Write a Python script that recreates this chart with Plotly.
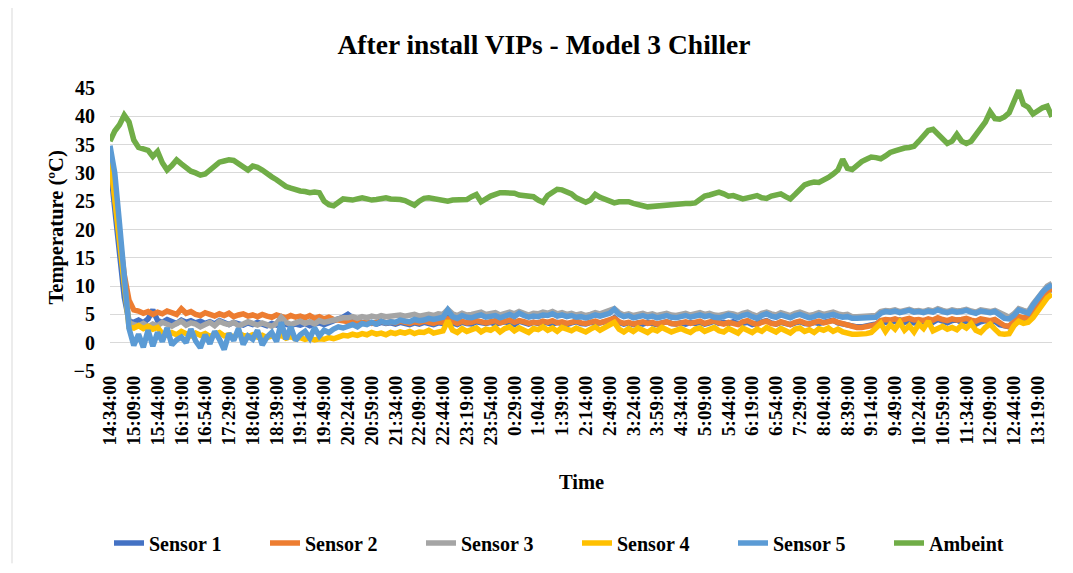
import plotly.graph_objects as go
import pandas as pd

start_time = "2021-01-01 14:34:00"
sample_step = "7min"

ambient = [
    35.6, 37.4, 38.5, 40.2, 39.0, 35.8, 34.5, 34.3, 34.0, 32.9,
    33.8, 31.8, 30.5, 31.3, 32.3, 31.6, 30.8, 30.3, 30.0, 29.6,
    29.8, 30.6, 31.3, 31.9, 32.1, 32.3, 32.2, 31.7, 31.0, 30.5,
    31.2, 31.0, 30.5, 29.8, 29.3, 28.8, 28.1, 27.6, 27.3, 27.0,
    26.8, 26.7, 26.5, 26.6, 26.5, 25.0, 24.4, 24.2, 24.8, 25.4,
    25.3, 25.2, 25.4, 25.6, 25.4, 25.2, 25.3, 25.5, 25.6, 25.4,
    25.4, 25.3, 25.1, 24.8, 24.3, 25.0, 25.5, 25.6, 25.4, 25.3,
    25.1, 25.0, 25.2, 25.3, 25.3, 25.3, 25.8, 26.2, 24.9, 25.5,
    25.9, 26.2, 26.5, 26.5, 26.5, 26.4, 26.1, 26.0, 26.0, 25.8,
    25.2, 24.8, 26.0, 26.7, 27.1, 27.0, 26.7, 26.3, 25.6, 25.1,
    24.8, 25.2, 26.2, 25.7, 25.3, 25.0, 24.7, 24.9, 25.0, 24.9,
    24.6, 24.3, 24.2, 24.0, 24.1, 24.0, 24.2, 24.4, 24.5, 24.6,
    24.6, 24.6, 24.6, 24.7, 25.3, 25.9, 26.1, 26.3, 26.6, 26.3,
    25.9, 26.0, 25.7, 25.4, 25.6, 25.9, 26.0, 25.6, 25.5, 25.9,
    26.2, 26.3, 25.8, 25.4, 26.2, 27.2, 27.9, 28.2, 28.4, 28.3,
    28.7, 29.2, 29.8, 30.5, 32.4, 30.8, 30.6, 31.4, 32.0, 32.4,
    32.8, 32.7, 32.5, 33.0, 33.6, 33.9, 34.2, 34.4, 34.5, 34.7,
    35.6, 36.5, 37.5, 37.7, 36.8, 36.0, 35.2, 35.6, 36.8, 35.6,
    35.2, 35.6, 36.8, 37.8, 39.0, 40.8, 39.6, 39.5, 39.9, 40.6,
    42.6, 44.6, 42.1, 41.6, 40.4, 41.1, 41.5, 41.8, 39.9,
]

sensor1 = [
    31.5, 24.0, 16.0, 8.0, 3.8, 3.6, 4.0, 3.5, 4.2, 5.8,
    3.9, 3.6, 4.1, 3.7, 3.4, 4.0, 3.6, 3.9, 3.5, 3.8,
    3.4, 3.7, 3.3, 3.9, 3.5, 3.2, 3.6, 3.4, 3.1, 3.5,
    3.2, 3.6, 3.3, 3.0, 3.4, 3.1, 3.5, 3.2, 3.0, 3.3,
    3.1, 3.4, 3.0, 3.3, 3.5, 3.2, 3.6, 3.9, 4.2, 4.5,
    5.0, 4.4, 3.8, 3.6, 3.4, 3.5, 3.3, 3.6, 3.4, 3.5,
    3.3, 3.6, 3.4, 3.2, 3.5, 3.3, 3.6, 3.4, 3.2, 3.5,
    3.4, 4.6, 3.5, 3.2, 3.6, 3.4, 3.3, 3.7, 3.5, 3.4,
    3.6, 3.3, 3.5, 3.7, 3.4, 3.2, 3.8, 3.5, 3.3, 3.6,
    3.4, 3.7, 3.5, 3.3, 3.6, 3.4, 3.2, 3.5, 3.7, 3.4,
    3.3, 3.6, 3.4, 3.5, 3.7, 3.9, 4.4, 3.6, 3.3, 3.5,
    3.2, 3.5, 3.3, 3.6, 3.4, 3.2, 3.5, 3.7, 3.4, 3.3,
    3.5, 3.3, 3.6, 3.4, 3.6, 3.3, 3.5, 3.8, 3.4, 3.6,
    3.4, 3.7, 3.3, 3.5, 3.6, 3.2, 3.4, 3.7, 3.9, 3.5,
    3.3, 3.6, 3.4, 3.2, 3.5, 3.7, 3.4, 3.3, 3.6, 3.4,
    3.6, 3.8, 4.0, 3.5, 3.3, 3.2, 2.9, 2.8, 2.8, 2.9,
    3.0, 3.3, 3.8, 3.6, 3.9, 3.7, 4.0, 3.6, 3.8, 3.5,
    3.7, 3.4, 3.9, 3.6, 4.1, 3.8, 3.5, 3.9, 4.0, 3.6,
    3.8, 3.5, 3.3, 3.7, 3.9, 3.6, 3.8, 3.2, 2.9, 2.8,
    3.5, 4.2, 4.0, 4.3, 5.6, 6.8, 8.0, 8.9, 9.5,
]

sensor2 = [
    32.5, 26.0, 19.0, 12.0, 7.5, 5.8, 5.6, 5.2, 5.5, 5.0,
    5.4, 5.1, 5.6, 5.3, 5.0, 6.0, 5.2, 5.5, 5.0, 4.8,
    5.3, 5.0, 4.7, 5.1, 4.8, 5.2, 4.6, 4.9, 5.1, 4.7,
    4.9, 4.6, 5.0, 4.7, 4.5, 4.9, 4.6, 4.4, 4.8, 4.5,
    4.7, 4.4, 4.8, 4.3, 4.6, 4.2, 4.5, 4.1, 4.0, 3.8,
    3.8, 3.6, 3.9, 3.5, 3.7, 3.4, 3.6, 3.8, 3.5, 3.7,
    3.5, 3.8, 3.6, 3.4, 3.7, 3.5, 3.8, 3.6, 3.4, 3.7,
    3.6, 4.2, 3.7, 3.4, 3.8, 3.5, 3.6, 3.9, 3.7, 3.5,
    3.7, 3.9, 3.5, 3.8, 4.0, 3.6, 3.9, 3.7, 3.4, 3.6,
    3.5, 3.8, 3.6, 3.9, 3.5, 3.7, 3.4, 3.6, 3.8, 3.5,
    3.4, 3.6, 3.8, 3.5, 3.7, 3.9, 4.3, 3.7, 3.4, 3.6,
    3.3, 3.5, 3.7, 3.4, 3.6, 3.3, 3.5, 3.7, 3.4, 3.3,
    3.5, 3.7, 3.4, 3.6, 3.8, 3.4, 3.6, 3.9, 3.5, 3.3,
    3.6, 3.4, 3.2, 3.7, 3.9, 3.5, 3.2, 3.6, 3.8, 3.4,
    3.3, 3.7, 3.5, 3.2, 3.6, 3.8, 3.5, 3.3, 3.6, 3.8,
    3.5, 3.7, 3.9, 3.6, 3.4, 3.2, 2.8, 2.7, 2.7, 2.8,
    2.9, 3.2, 3.9, 4.1, 4.0, 4.2, 3.9, 4.1, 4.3, 4.0,
    4.1, 3.9, 4.2, 4.0, 4.4, 4.1, 3.9, 4.2, 4.0, 4.1,
    4.3, 4.0, 3.8, 4.2, 4.1, 3.9, 4.1, 3.6, 3.0, 2.9,
    3.9, 4.6, 4.4, 4.5, 5.9, 7.0, 8.1, 9.0, 9.6,
]

sensor3 = [
    33.5, 26.0, 18.0, 9.5, 3.5, 3.2, 3.0, 3.4, 2.8, 3.3,
    3.0, 3.6, 3.2, 2.9, 3.4, 3.8, 3.1, 3.5, 3.3, 2.8,
    3.2, 3.6, 3.0, 3.8, 3.4, 3.2, 3.6, 3.0, 3.3, 3.7,
    3.4, 3.1, 3.5, 3.3, 2.9, 3.4, 4.5, 3.6, 3.2, 3.5,
    3.8, 3.4, 3.7, 3.3, 3.9, 3.6, 3.8, 4.0, 4.3, 4.4,
    4.4, 4.6, 4.3, 4.6, 4.4, 4.7, 4.5, 4.8, 4.6, 4.7,
    4.6, 4.9, 4.7, 4.8, 5.0, 4.7, 4.9, 5.0, 4.8, 5.1,
    5.0, 5.9, 5.1, 4.8, 5.2, 4.9, 5.0, 5.2, 5.4, 5.0,
    5.1, 5.3, 4.9, 5.2, 5.4, 5.1, 5.5, 5.2, 4.9, 5.2,
    5.1, 5.4, 5.2, 5.5, 5.1, 5.3, 5.0, 5.2, 4.9, 5.1,
    4.8, 5.0, 5.3, 5.1, 5.4, 5.5, 6.0, 5.3, 4.9, 5.1,
    4.8, 5.0, 5.2, 4.9, 5.1, 4.8, 5.0, 5.2, 4.9, 4.8,
    5.0, 5.2, 4.9, 5.1, 5.3, 5.0, 5.2, 4.9, 4.8, 5.0,
    5.2, 5.1, 4.8, 5.2, 5.4, 5.0, 4.7, 5.2, 5.4, 5.1,
    4.9, 5.3, 5.0, 4.8, 5.2, 5.4, 5.1, 4.8, 5.0, 5.3,
    5.0, 5.2, 5.4, 5.1, 4.9, 5.0, 4.6, 4.6, 4.6, 4.6,
    4.6, 4.8, 5.5, 5.7, 5.6, 5.8, 5.5, 5.7, 5.9, 5.6,
    5.7, 5.5, 5.8, 5.6, 6.0, 5.7, 5.5, 5.8, 5.6, 5.7,
    5.9, 5.6, 5.4, 5.8, 5.7, 5.5, 5.7, 5.3, 4.7, 4.5,
    5.1, 6.0, 5.7, 5.5, 6.8, 8.0, 9.1, 10.0, 10.5,
]

sensor4 = [
    33.0, 25.0, 17.0, 9.0, 2.8, 2.6, 3.0, 2.5, 2.9, 2.4,
    2.7, 1.6, 1.3, 1.8, 1.4, 2.0, 1.5, 1.2, 1.7, 1.3,
    1.6, 1.1, 1.5, 1.8, 1.2, 1.4, 1.0, 1.6, 1.3, 1.1,
    1.4, 1.0, 1.3, 0.9, 1.2, 1.0, 1.3, 0.8, 1.1, 0.7,
    0.9, 0.6, 0.8, 0.5, 0.7, 0.6, 0.9, 0.7, 1.0, 1.3,
    1.2, 1.5, 1.3, 1.6, 1.4, 1.8, 1.5, 1.7, 1.4, 1.8,
    1.6, 1.9, 1.7, 2.0, 1.6, 1.9, 1.8, 2.2, 1.7, 2.0,
    2.1, 3.9, 2.2, 1.8, 2.5, 2.0, 2.3, 2.6, 1.9, 2.4,
    2.2, 2.7, 1.9, 2.5, 2.8, 2.1, 2.6, 2.3, 1.8, 2.5,
    2.3, 2.8, 2.2, 2.6, 2.0, 2.7, 2.4, 2.1, 2.6, 2.3,
    1.9, 2.4, 2.8, 2.2, 2.6, 3.0, 3.6, 2.4, 1.9, 2.5,
    2.0, 2.6, 2.2, 1.8, 2.4, 2.1, 2.7, 2.3, 1.9, 2.2,
    2.5, 2.1, 1.8, 2.4, 2.6, 2.0, 2.3, 2.7, 2.1, 1.9,
    2.5, 2.2, 1.7, 2.6, 2.3, 1.8, 2.4, 2.0, 2.7, 2.2,
    1.9, 2.5, 2.1, 1.7, 2.4, 2.6, 2.0, 2.3, 1.8, 2.5,
    2.2, 2.6, 2.0, 2.4, 1.9, 1.6, 1.5, 1.5, 1.5, 1.6,
    1.8, 2.6, 3.4, 2.0, 3.2, 2.4, 3.6, 2.2, 3.0, 1.9,
    3.3, 2.5, 3.8, 2.1, 2.6, 2.9, 2.4, 2.7, 2.3, 3.1,
    2.6, 3.4, 2.2, 1.8, 2.7, 3.3, 2.4, 1.6, 1.5, 1.6,
    3.0, 3.8, 3.4, 3.6, 4.4, 5.6, 6.8, 7.9, 8.6,
]

sensor5 = [
    34.8, 30.0, 21.0, 12.0, 2.5, -0.5, 1.5, -0.8, 2.2, -0.6,
    1.8, 0.2, 2.6, -0.4, 0.5, 1.0, 0.0, 2.4, 0.3, -0.9,
    1.4, -0.2, 2.0, 0.6, -1.2, 1.6, 0.4, 2.5, -0.3, 1.2,
    0.6, 2.2, -0.4, 1.0, 1.8, 0.2, 3.6, 0.6, 2.8, 0.4,
    1.4, 2.0, 0.8, 2.6, 1.2, 2.2, 1.8, 2.4, 2.8, 2.6,
    3.0, 3.2, 2.8, 3.4, 3.2, 3.6, 3.3, 3.8, 3.5, 3.7,
    3.6, 4.0, 3.8, 3.7, 4.1, 3.9, 4.0, 4.3, 4.1, 4.4,
    4.5, 5.8, 4.6, 4.3, 4.8, 4.5, 4.4, 4.7, 4.9, 4.5,
    4.6, 4.8, 4.4, 4.7, 5.0, 4.6, 5.2, 4.8, 4.5, 4.7,
    4.6, 4.9, 4.8, 5.1, 4.7, 4.9, 4.6, 4.8, 4.5, 4.6,
    4.4, 4.6, 4.9, 4.7, 5.0, 5.2, 5.9, 5.0, 4.6, 4.8,
    4.4, 4.6, 4.8, 4.5, 4.7, 4.4, 4.6, 4.8, 4.5, 4.4,
    4.6, 4.8, 4.5, 4.7, 4.9, 4.6, 4.8, 4.5, 4.4, 4.6,
    4.9, 4.7, 4.4, 4.8, 5.0, 4.6, 4.3, 4.8, 5.1, 4.7,
    4.5, 4.9, 4.6, 4.4, 4.8, 5.0, 4.7, 4.4, 4.6, 4.9,
    4.6, 4.8, 5.0, 4.7, 4.5, 4.6, 4.3, 4.3, 4.3, 4.3,
    4.3, 4.5, 5.2, 5.5, 5.4, 5.6, 5.3, 5.5, 5.7, 5.4,
    5.5, 5.3, 5.6, 5.4, 5.8, 5.5, 5.3, 5.6, 5.4, 5.5,
    5.7, 5.4, 5.2, 5.6, 5.5, 5.3, 5.5, 5.0, 4.3, 4.2,
    4.8, 5.8, 5.4, 5.2, 6.6, 7.8, 8.9, 9.7, 10.2,
]

series_names = ["Sensor 1", "Sensor 2", "Sensor 3", "Sensor 4", "Sensor 5", "Ambeint"]
series_values = [sensor1, sensor2, sensor3, sensor4, sensor5, ambient]
series_colors = ["#4472C4", "#ED7D31", "#A5A5A5", "#FFC000", "#5B9BD5", "#70AD47"]

FONT = "Liberation Serif, Times New Roman, serif"

# the page body has an 8px margin, so the figure is 8px smaller than the window
W, H = 1065, 565

fig = go.Figure()
for name, vals, col in zip(series_names, series_values, series_colors):
    t = pd.date_range(start_time, periods=len(vals), freq=sample_step)
    fig.add_trace(go.Scatter(
        x=t, y=vals, name="<b>" + name + "</b>", mode="lines",
        line=dict(color=col, width=5.5),
    ))

t0 = pd.Timestamp(start_time)
x_end = t0 + pd.Timedelta(minutes=1386)

fig.update_layout(
    width=W, height=H,
    margin=dict(l=102, r=21, t=80, b=201),
    paper_bgcolor="white", plot_bgcolor="white",
    font=dict(family=FONT, color="black", size=20),
    title=dict(text="<b>After install VIPs - Model 3 Chiller</b>",
               x=(544 - 8) / W, xanchor="center", y=1 - 36 / H, yanchor="middle",
               font=dict(size=27.5, family=FONT, color="black")),
    showlegend=True,
    legend=dict(orientation="h", x=(109 - 110) / 942, xanchor="left", y=-(543 - 372) / 284,
                yanchor="middle",
                font=dict(size=20, family=FONT, color="black"),
                itemwidth=30, entrywidth=111, entrywidthmode="pixels",
                tracegroupgap=0, bgcolor="rgba(0,0,0,0)"),
    xaxis=dict(
        type="date", range=[t0, x_end],
        tick0=t0, dtick=35 * 60 * 1000, tickformat="%-H:%M:%S",
        tickangle=-90, showgrid=False, zeroline=False, showline=False,
        ticks="", tickfont=dict(size=19, family=FONT, color="black"),
        tickprefix="<b>", ticksuffix="</b>",
    ),
    yaxis=dict(
        range=[-5, 45], dtick=5, tick0=0, showgrid=True, gridcolor="#D9D9D9", gridwidth=1.3,
        zeroline=False, showline=False, ticks="", ticklabelstandoff=14,
        tickfont=dict(size=20, family=FONT, color="black"),
        tickprefix="<b>", ticksuffix="</b>",
    ),
    annotations=[
        dict(text="<b>Temperature (ºC)</b>", textangle=-90, xref="paper", yref="paper",
             x=(57 - 110) / 942, y=(372 - 228) / 284, xanchor="center", yanchor="middle",
             showarrow=False, font=dict(size=20.5, family=FONT, color="black")),
        dict(text="<b>Time</b>", xref="paper", yref="paper",
             x=(581 - 110) / 942, y=-(483 - 372) / 284, xanchor="center", yanchor="middle",
             showarrow=False, font=dict(size=20.5, family=FONT, color="black")),
    ],
    shapes=[
        dict(type="line", xref="paper", yref="paper",
             x0=(12 - 110) / 942, x1=(12 - 110) / 942, y0=(372 + 8) / 284, y1=-(565 - 372) / 284,
             line=dict(color="#D9D9D9", width=1)),
    ],
)

fig.write_html("out.html")
